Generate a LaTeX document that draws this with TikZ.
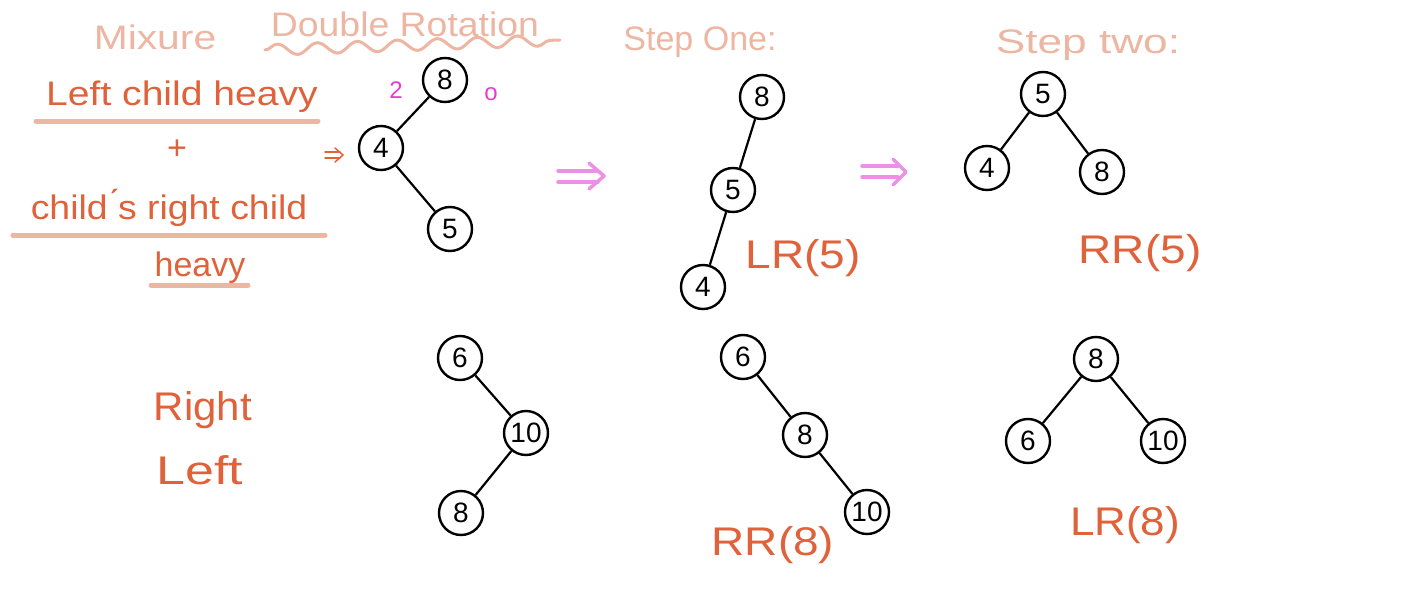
\documentclass[tikz,border=0pt]{standalone}
\usepackage{fontspec}
\setmainfont{Liberation Sans}
\usetikzlibrary{decorations.pathmorphing}
\definecolor{ora}{HTML}{E0623A}
\definecolor{sal}{HTML}{EDB6A2}
\definecolor{mag}{HTML}{E33CD6}
\definecolor{pnk}{HTML}{EE8FE6}
\begin{document}
\begin{tikzpicture}[x=1pt,y=-1pt,
 nd/.style={circle,draw,line width=2.4pt,minimum size=44pt,inner sep=0pt,font=\fontsize{28}{32}\selectfont},
 ln/.style={line width=2.2pt},
 lab/.style={text=ora,inner sep=0pt,font=\fontsize{34}{40}\selectfont},
 big/.style={text=ora,inner sep=0pt,font=\fontsize{40}{46}\selectfont},
 ttl/.style={text=sal,inner sep=0pt,font=\fontsize{34}{40}\selectfont},
 bal/.style={text=mag,inner sep=0pt,font=\fontsize{24}{28}\selectfont},
 ul/.style={draw=sal,line width=5pt,line cap=round},
 dbl/.style={draw=pnk,line width=3.5pt,line cap=round,line join=round},
 sdbl/.style={draw=ora,line width=1.5pt,line cap=round,line join=round}]
\useasboundingbox (0,0) rectangle (1422,594);

% titles
\node[ttl] (mix) at (155,37) {\scalebox{1.2}[1]{Mixure}};
\node[ttl] (dr) at (405,24) {\scalebox{1.1}[1]{Double Rotation}};
\draw[sal,line width=3pt,line cap=round,decorate,decoration={snake,amplitude=5.5pt,segment length=40pt}] (265,50) -- (560,40);
\node[ttl] (s1) at (700,42) {Step One:};
\node[ttl] (s2) at (1088,45) {\scalebox{1.3}[1]{Step two:}};

% left description
\node[lab] (lch) at (182,97) {\scalebox{1.15}[1]{Left child heavy}};
\draw[ul] (36,121) -- (318,121);
\node[lab] (plus) at (177,150) {+};
\node[lab] (crc) at (169,208) {\scalebox{1.1}[1]{child\'{}s right child}};
\draw[ul] (13,235) -- (325,235);
\node[lab] (hv) at (200,268) {heavy};
\draw[ul] (151,285) -- (248,285);
\node[big] (rt) at (203,410) {\scalebox{1.05}[1]{Right}};
\node[big] (lf) at (200,470) {\scalebox{1.3}[1]{Left}};

% small orange arrow
\draw[sdbl] (325,152) -- (340,152) (325,158) -- (340,158);
\draw[sdbl] (335,148) -- (343,155) -- (335,162);

% big pink arrows
\draw[dbl] (558,171) -- (598,171) (558,182) -- (598,182);
\draw[dbl] (589,163) -- (604,176) -- (589,189);
\draw[dbl] (862,166) -- (898,166) (862,177) -- (898,177);
\draw[dbl] (893,159) -- (906,172) -- (893,185);

% tree 1
\node[nd] (a8) at (445,80) {8};
\node[nd] (a4) at (381,148) {4};
\node[nd] (a5) at (450,229) {5};
\draw[ln] (a8) -- (a4);
\draw[ln] (a4) -- (a5);
\node[bal] (b2) at (396,90) {2};
\node[bal] (b0) at (491,94) {o};

% tree 2
\node[nd] (b8) at (762,97) {8};
\node[nd] (b5) at (733,190) {5};
\node[nd] (b4) at (703,287) {4};
\draw[ln] (b8) -- (b5);
\draw[ln] (b5) -- (b4);
\node[big] (lr5) at (803,258) {\scalebox{1.15}[1]{LR(5)}};

% tree 3
\node[nd] (c5) at (1043,94) {5};
\node[nd] (c4) at (987,168) {4};
\node[nd] (c8) at (1102,172) {8};
\draw[ln] (c5) -- (c4);
\draw[ln] (c5) -- (c8);
\node[big] (rr5) at (1140,253) {\scalebox{1.15}[1]{RR(5)}};

% tree 4
\node[nd] (d6) at (460,358) {6};
\node[nd] (d10) at (526,433) {10};
\node[nd] (d8) at (461,513) {8};
\draw[ln] (d6) -- (d10);
\draw[ln] (d10) -- (d8);

% tree 5
\node[nd] (e6) at (743,357) {6};
\node[nd] (e8) at (805,435) {8};
\node[nd] (e10) at (867,512) {10};
\draw[ln] (e6) -- (e8);
\draw[ln] (e8) -- (e10);
\node[big] (rr8) at (773,545) {\scalebox{1.15}[1]{RR(8)}};

% tree 6
\node[nd] (f8) at (1096,359) {8};
\node[nd] (f6) at (1028,441) {6};
\node[nd] (f10) at (1163,441) {10};
\draw[ln] (f8) -- (f6);
\draw[ln] (f8) -- (f10);
\node[big] (lr8) at (1125,525) {\scalebox{1.1}[1]{LR(8)}};
\end{tikzpicture}
\end{document}
